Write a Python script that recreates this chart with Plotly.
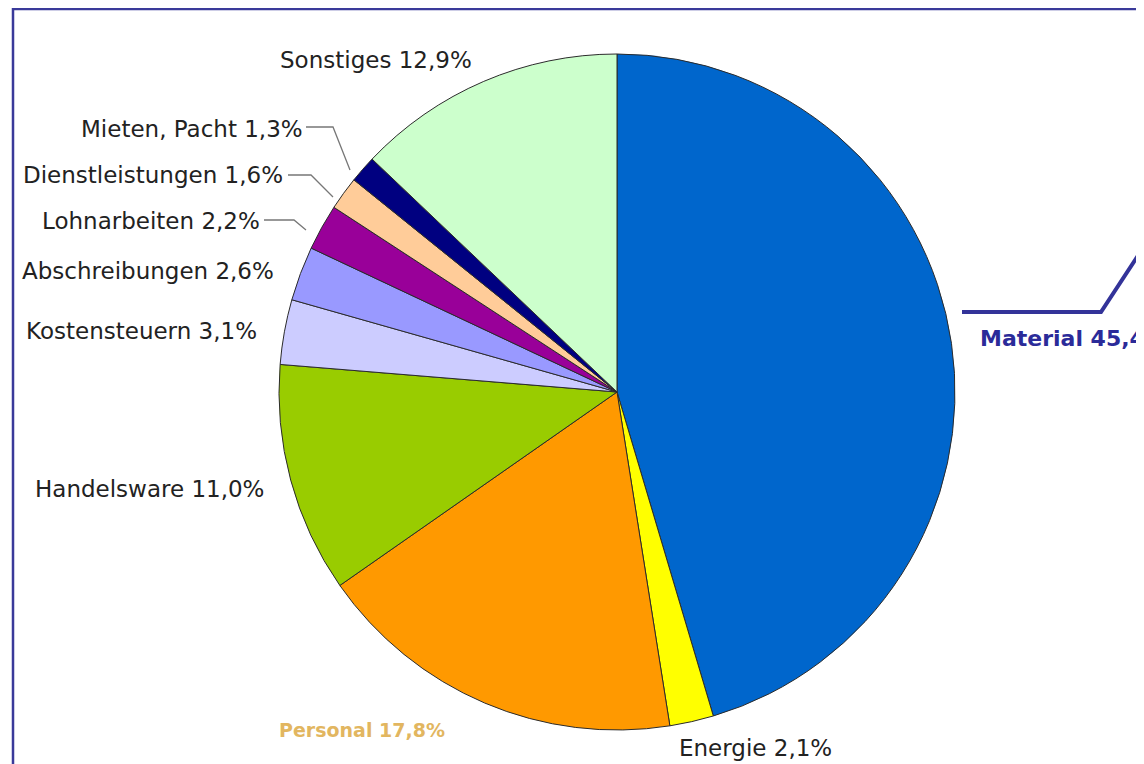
import plotly.graph_objects as go

# ---- data ----
categories = ["Material", "Energie", "Personal", "Handelsware", "Kostensteuern",
              "Abschreibungen", "Lohnarbeiten", "Dienstleistungen", "Mieten, Pacht", "Sonstiges"]
shares = [45.4, 2.1, 17.8, 11.0, 3.1, 2.6, 2.2, 1.6, 1.3, 12.9]
slice_colors = ["#0066CC", "#FFFF00", "#FF9900", "#99CC00", "#CCCCFF",
                "#9999FF", "#990099", "#FFCC99", "#000080", "#CCFFCC"]

W, H = 1144, 764
OFF = 8  # page body margin offset of the rendered figure
CX, CY, R = 617, 392, 338


def px(x):
    return (x - OFF) / W


def py(y):
    return 1 - (y - OFF) / H


def label_text(name, v):
    return f"{name} {v:.1f}%".replace(".", ",")


fig = go.Figure(go.Pie(
    labels=categories,
    values=shares,
    sort=False,
    direction="clockwise",
    rotation=0,
    marker=dict(colors=slice_colors, line=dict(color="#2b2b2b", width=1)),
    textinfo="none",
    hoverinfo="label+percent",
    showlegend=False,
    domain=dict(x=[px(CX - R), px(CX + R)], y=[py(CY + R), py(CY - R)]),
))

# label placement (layout only): x, y in px, anchor, bold, color, size
label_layout = {
    "Material": (978, 338, "left", True, "#2B2B99", 22),
    "Energie": (677, 748, "left", False, "#222222", 23),
    "Personal": (277, 730, "left", True, "#E2B660", 19),
    "Handelsware": (266, 489, "right", False, "#222222", 23),
    "Kostensteuern": (259, 331, "right", False, "#222222", 23),
    "Abschreibungen": (276, 271, "right", False, "#222222", 23),
    "Lohnarbeiten": (262, 221, "right", False, "#222222", 23),
    "Dienstleistungen": (285, 175, "right", False, "#222222", 23),
    "Mieten, Pacht": (305, 129, "right", False, "#222222", 23),
    "Sonstiges": (376, 60, "center", False, "#222222", 23),
}

annotations = []
for name, v in zip(categories, shares):
    x, y, anchor, bold, col, size = label_layout[name]
    txt = label_text(name, v)
    if bold:
        txt = f"<b>{txt}</b>"
    annotations.append(dict(
        x=px(x), y=py(y), xref="paper", yref="paper",
        text=txt, showarrow=False, xanchor=anchor, yanchor="middle",
        font=dict(family="DejaVu Sans", size=size, color=col),
    ))

shapes = []
# thin leader lines for the small slices
leaders = [
    [(306, 127), (333, 127), (350, 170)],
    [(288, 175), (311, 175), (333, 197)],
    [(264, 220), (294, 220), (306, 230)],
]
for pts in leaders:
    path = "M " + " L ".join(f"{px(a)},{py(b)}" for a, b in pts)
    shapes.append(dict(type="path", xref="paper", yref="paper", path=path,
                       line=dict(color="#777777", width=1.3)))

# Material callout (thick blue)
mat_pts = [(962, 312), (1101, 312), (1160, 222)]
shapes.append(dict(type="path", xref="paper", yref="paper",
                   path="M " + " L ".join(f"{px(a)},{py(b)}" for a, b in mat_pts),
                   line=dict(color="#333399", width=4)))

# outer frame (left and top edges visible)
shapes.append(dict(type="path", xref="paper", yref="paper",
                   path=f"M {px(13)},{py(800)} L {px(13)},{py(9)} L {px(1200)},{py(9)}",
                   line=dict(color="#3A3A9A", width=2.5)))

fig.update_layout(
    width=W, height=H,
    margin=dict(l=0, r=0, t=0, b=0),
    paper_bgcolor="white",
    plot_bgcolor="white",
    annotations=annotations,
    shapes=shapes,
)

fig.write_html("out.html")
